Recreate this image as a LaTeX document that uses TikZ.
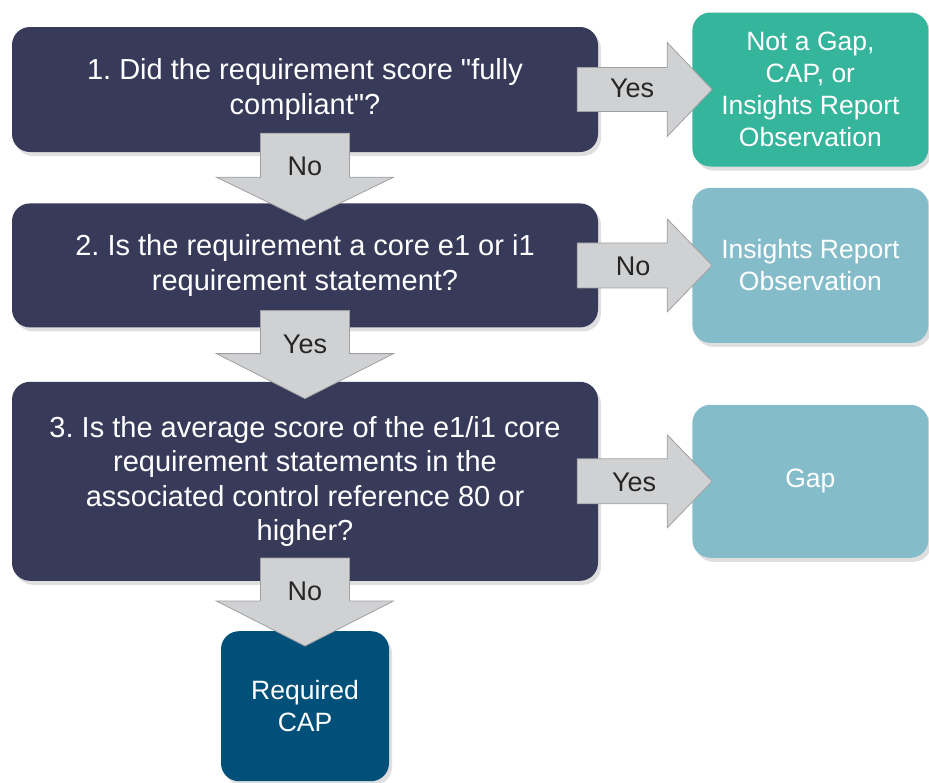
\documentclass[tikz,border=0pt]{standalone}
\usepackage{fontspec}
\setmainfont{Liberation Sans}
\frenchspacing
\usetikzlibrary{positioning,calc,shadows}

\definecolor{navy}{HTML}{383A59}
\definecolor{mint}{HTML}{35B59B}
\definecolor{paleblue}{HTML}{84BCCA}
\definecolor{capblue}{HTML}{00507A}
\definecolor{arrowgray}{HTML}{D0D1D3}
\definecolor{arrowline}{HTML}{A0A0A2}

\begin{document}
\begin{tikzpicture}[x=1pt, y=-1pt,
question/.style={rectangle, rounded corners=18pt, fill=navy, text=white, align=center, inner sep=0pt, minimum width=586pt, font=\fontsize{29}{34.5}\selectfont, drop shadow={shadow xshift=3pt, shadow yshift=-4pt, opacity=0.25}},
answer/.style={rectangle, rounded corners=18pt, text=white, align=center, inner sep=0pt, minimum width=236pt, font=\fontsize{26.5}{32}\selectfont, drop shadow={shadow xshift=3pt, shadow yshift=-4pt, opacity=0.25}},
blockarrow/.style={fill=arrowgray, draw=arrowline, line width=0.8pt, line join=miter},
arrowlabel/.style={text=black!85, inner sep=0pt, font=\fontsize{27}{30}\selectfont}
]
\useasboundingbox (0,0) rectangle (929,782);

% questions
\node[question, minimum height=125pt] (q1) at (305,89.5) {1. Did the requirement score \textquotedbl fully\\compliant\textquotedbl ?};
\node[question, minimum height=124pt] (q2) [below=51pt of q1] {2. Is the requirement a core e1 or i1\\requirement statement?};
\node[question, minimum height=199pt] (q3) [below=54pt of q2] {3. Is the average score of the e1/i1 core\\requirement statements in the\\associated control reference 80 or\\higher?};

% outcomes
\node[answer, fill=mint, minimum height=154pt] (a1) [right=94pt of q1] {Not a Gap,\\CAP, or\\Insights Report\\Observation};
\node[answer, fill=paleblue, minimum height=155pt] (a2) [right=94pt of q2] {Insights Report\\Observation};
\node[answer, fill=paleblue, minimum height=153pt] (a3) [right=94pt of q3] {Gap};
\node[answer, fill=capblue, minimum width=168pt, minimum height=150pt] (cap) [below=50pt of q3] {Required\\CAP};

% block arrows to the right
\draw[blockarrow] ($(q1.east)+(-21,-22)$) -- ++(90,0) -- ++(0,-25) -- ++(45,47) -- ++(-45,47) -- ++(0,-25) -- ++(-90,0) -- cycle;
\draw[blockarrow] ($(q2.east)+(-21,-22.5)$) -- ++(90,0) -- ++(0,-24) -- ++(45,46.5) -- ++(-45,46.5) -- ++(0,-24) -- ++(-90,0) -- cycle;
\draw[blockarrow] ($(q3.east)+(-21,-22.5)$) -- ++(90,0) -- ++(0,-24) -- ++(45,46.5) -- ++(-45,46.5) -- ++(0,-24) -- ++(-90,0) -- cycle;

% block arrows downwards
\draw[blockarrow] ($(q1.south)+(-44.5,-19)$) -- ++(89,0) -- ++(0,44) -- ++(44,0) -- ++(-88.5,43) -- ++(-88.5,-43) -- ++(44,0) -- cycle;
\draw[blockarrow] ($(q2.south)+(-44.5,-17)$) -- ++(89,0) -- ++(0,43) -- ++(44,0) -- ++(-88.5,45) -- ++(-88.5,-45) -- ++(44,0) -- cycle;
\draw[blockarrow] ($(q3.south)+(-44.5,-23)$) -- ++(89,0) -- ++(0,43) -- ++(44,0) -- ++(-88.5,45) -- ++(-88.5,-45) -- ++(44,0) -- cycle;

% arrow labels
\node[arrowlabel] (yes1) at ($(q1.east)+(34,-1)$) {Yes};
\node[arrowlabel] (no2) at ($(q2.east)+(35,1)$) {No};
\node[arrowlabel] (yes3) at ($(q3.east)+(36,1)$) {Yes};
\node[arrowlabel] (no1) at ($(q1.south)+(0,14)$) {No};
\node[arrowlabel] (yes2) at ($(q2.south)+(0,17)$) {Yes};
\node[arrowlabel] (no3) at ($(q3.south)+(0,10)$) {No};
\end{tikzpicture}
\end{document}
